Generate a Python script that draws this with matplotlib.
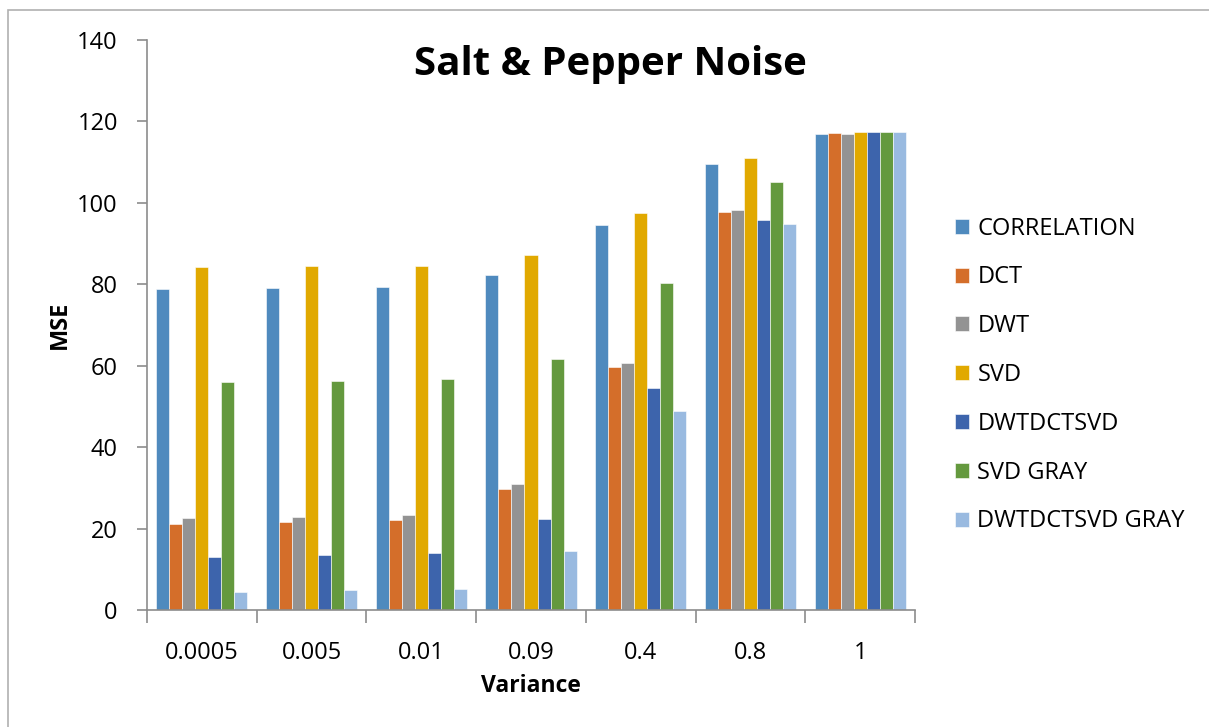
import matplotlib
matplotlib.use("Agg")
import matplotlib.pyplot as plt
from matplotlib.patches import Rectangle
import numpy as np

plt.rcParams['font.family'] = ['Open Sans', 'DejaVu Sans']

categories = ["0.0005", "0.005", "0.01", "0.09", "0.4", "0.8", "1"]
series_names = ["CORRELATION", "DCT", "DWT", "SVD", "DWTDCTSVD", "SVD GRAY", "DWTDCTSVD GRAY"]
correlation = [78.8, 79.0, 79.3, 82.3, 94.5, 109.5, 117.0]
dct = [21.2, 21.7, 22.1, 29.7, 59.7, 97.7, 117.2]
dwt = [22.6, 22.9, 23.4, 31.0, 60.7, 98.2, 117.0]
svd = [84.3, 84.5, 84.5, 87.2, 97.4, 110.9, 117.3]
dwtdctsvd = [13.1, 13.6, 14.0, 22.3, 54.5, 95.9, 117.3]
svd_gray = [56.0, 56.3, 56.7, 61.6, 80.3, 105.1, 117.3]
dwtdctsvd_gray = [4.3, 4.8, 5.2, 14.4, 49.0, 94.7, 117.3]
series = [correlation, dct, dwt, svd, dwtdctsvd, svd_gray, dwtdctsvd_gray]
colors = ["#4F8ABE", "#D46E2A", "#939393", "#E1A900", "#3D64AC", "#64993E", "#99BAE0"]
yticks = [0, 20, 40, 60, 80, 100, 120, 140]

W, H = 1209, 727
fig = plt.figure(figsize=(W / 100, H / 100), dpi=100)
fig.patches.append(Rectangle((8 / W, -0.1), 1.2, 1 - 10 / H + 0.1, transform=fig.transFigure,
                             fill=False, edgecolor="#B0B0B0", linewidth=1.2))
ax = fig.add_axes([147 / W, 1 - 610 / H, (915 - 147) / W, (610 - 40) / H])

x = np.arange(len(categories))
w = 0.1185
for j, (name, vals, c) in enumerate(zip(series_names, series, colors)):
    ax.bar(x + (j - 3) * w, vals, width=w, color=c, edgecolor="white", linewidth=0.4, label=name)

ax.set_xlim(-0.5, len(categories) - 0.5)
ax.set_ylim(0, 140)
ax.set_yticks(yticks)
ax.set_xticks(x)
ax.set_xticklabels(categories)
ax.set_xticks(np.arange(-0.5, len(categories), 1.0), minor=True)
ax.tick_params(axis='x', which='major', length=0, pad=22, labelsize=17)
ax.tick_params(axis='x', which='minor', length=9, width=1.2, color="#8C8C8C")
ax.tick_params(axis='y', which='major', length=7, width=1.2, color="#8C8C8C", labelsize=17, pad=14)
for s in ["top", "right"]:
    ax.spines[s].set_visible(False)
for s in ["left", "bottom"]:
    ax.spines[s].set_color("#8C8C8C")
    ax.spines[s].set_linewidth(1.2)

ax.set_ylabel("MSE", fontsize=17, fontweight="bold", va="center")
ax.yaxis.set_label_coords((60 - 147) / (915 - 147), 0.5)
ax.set_xlabel("Variance", fontsize=16.5, fontweight="bold")
ax.xaxis.set_label_coords(0.5, -(686 - 610) / (610 - 40))
ax.xaxis.label.set_va("center")

fig.text(610 / W, 1 - 64 / H, "Salt & Pepper Noise", fontsize=29, fontweight="bold",
         ha="center", va="center")

leg = fig.legend(loc="center left", bbox_to_anchor=(955 / W, 1 - 375 / H), frameon=False,
                 fontsize=17, handlelength=0.6, handleheight=0.6, handletextpad=0.35,
                 labelspacing=1.05, borderpad=0, borderaxespad=0)

fig.savefig("out.png", dpi=100)
